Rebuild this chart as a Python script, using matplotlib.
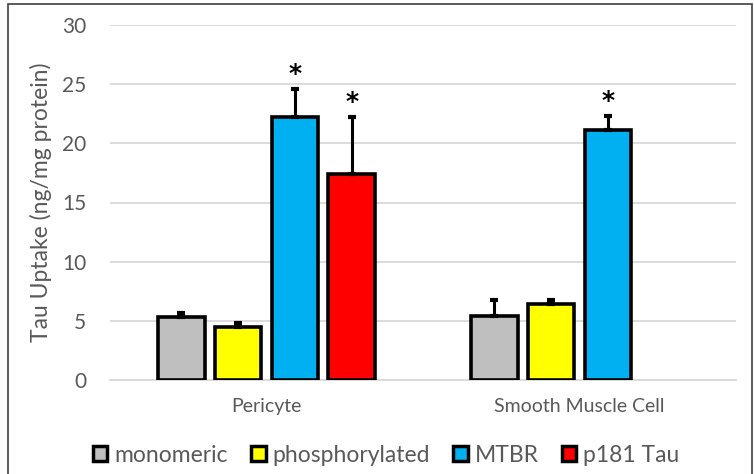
import matplotlib
matplotlib.use("Agg")
import matplotlib.pyplot as plt
from matplotlib.patches import Patch, Rectangle
import numpy as np

plt.rcParams['font.family'] = ['Lato', 'DejaVu Sans']

categories = ["Pericyte", "Smooth Muscle Cell"]
series = ["monomeric", "phosphorylated", "MTBR", "p181 Tau"]
colors = ["#bfbfbf", "#ffff00", "#00b0f0", "#ff0000"]
values = {
    "monomeric":      [5.3, 5.4],
    "phosphorylated": [4.5, 6.4],
    "MTBR":           [22.2, 21.1],
    "p181 Tau":       [17.4, None],
}
errors = {
    "monomeric":      [0.4, 1.4],
    "phosphorylated": [0.3, 0.4],
    "MTBR":           [2.4, 1.2],
    "p181 Tau":       [4.8, None],
}
significant = {
    "monomeric":      [False, False],
    "phosphorylated": [False, False],
    "MTBR":           [True, True],
    "p181 Tau":       [True, False],
}
yticks = [0, 5, 10, 15, 20, 25, 30]

text_color = "#595959"
fig = plt.figure(figsize=(7.54, 4.74), dpi=100)
ax = fig.add_axes([110/754, 1-380/474, 626/754, 355/474])

pitch = 0.182
width = 0.150
centers = np.arange(len(categories)) + 0.5
for i, s in enumerate(series):
    off = (i - 1.5) * pitch
    for j, c in enumerate(centers):
        v = values[s][j]
        if v is None:
            continue
        x = c + off
        ax.bar(x, v, width=width, color=colors[i], edgecolor="black",
               linewidth=2.6, zorder=3)
        e = errors[s][j]
        ax.errorbar(x, v, yerr=[[0], [e]], fmt="none", ecolor="black",
                    elinewidth=2.2, capsize=3, capthick=3, zorder=4)
        if significant[s][j]:
            ax.text(x, v + e + 0.25, "*", ha="center", va="bottom",
                    fontsize=18, fontweight="bold", color="black",
                    fontfamily="DejaVu Sans", zorder=5)

ax.set_xlim(0, len(categories))
ax.set_ylim(0, 30)
ax.set_yticks(yticks)
ax.set_xticks(centers)
ax.set_xticklabels(categories, fontsize=14, color=text_color)
ax.tick_params(axis="x", length=0, pad=13)
ax.tick_params(axis="y", length=0, pad=17, labelsize=15, labelcolor=text_color)
ax.yaxis.grid(True, color="#d9d9d9", linewidth=1.3, zorder=0)
ax.set_axisbelow(True)
for sp in ["top", "right", "left"]:
    ax.spines[sp].set_visible(False)
ax.spines["bottom"].set_color("#d9d9d9")
ax.spines["bottom"].set_linewidth(1.3)
ax.set_ylabel("Tau Uptake (ng/mg protein)", fontsize=16.5, color=text_color, labelpad=7)

handles = [Patch(facecolor=c, edgecolor="black", linewidth=2.5) for c in colors]
fig.legend(handles, series, loc="center", bbox_to_anchor=(0.512, 1-455/474),
           ncol=4, frameon=False, fontsize=16.5, handlelength=0.65, handleheight=0.65,
           handletextpad=0.3, columnspacing=1.0, labelcolor=text_color)

fig.patches.append(Rectangle((8/754, -0.05), 744/754, 1.05 - 4/474, transform=fig.transFigure,
                             fill=False, edgecolor="#404040", linewidth=1.2))

fig.savefig("out.png", dpi=100)
